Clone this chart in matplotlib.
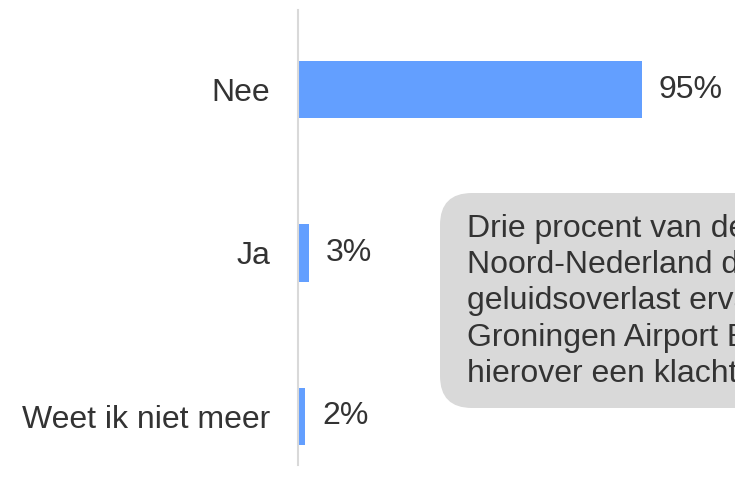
import matplotlib.pyplot as plt
from matplotlib.patches import FancyBboxPatch

plt.rcParams['font.family'] = ['Liberation Sans', 'DejaVu Sans']

categories = ['Nee', 'Ja', 'Weet ik niet meer']
values = [95, 3, 2]
note = ('Drie procent van de inwoners van\n'
        'Noord-Nederland die\n'
        'geluidsoverlast ervaart van\n'
        'Groningen Airport Eelde diende\n'
        'hierover een klacht in.')

bar_color = '#639fff'
text_color = '#333333'

W, H = 735, 492
fig = plt.figure(figsize=(W / 100, H / 100), dpi=100)
ax = fig.add_axes([298 / W, 1 - 465 / H, 362 / W, 455 / H])

pos = list(range(len(categories)))
ax.barh(pos, values, height=0.35, color=bar_color)
ax.set_xlim(0, 100)
ax.set_ylim(2.30, -0.49)

ax.set_yticks(pos)
ax.set_yticklabels(categories, fontsize=23, color=text_color)
ax.tick_params(axis='y', length=0, pad=20)
ax.set_xticks([])
for s in ['top', 'right', 'bottom']:
    ax.spines[s].set_visible(False)
ax.spines['left'].set_color('#d9d9d9')
ax.spines['left'].set_linewidth(1.5)

for i, v in enumerate(values):
    ax.annotate(f'{v}%', (v, i), xytext=(12, 0), textcoords='offset points',
                va='center', ha='left', fontsize=23, color=text_color)

# callout box (inches == px/100), runs off the right edge like the original
box = FancyBboxPatch((4.40, (H - 408) / 100), 3.4, 2.15,
                     boxstyle='round,pad=0,rounding_size=0.32',
                     transform=fig.dpi_scale_trans, facecolor='#d9d9d9',
                     edgecolor='none', zorder=0)
fig.patches.append(box)
fig.text(4.67, (H - 214) / 100, note, transform=fig.dpi_scale_trans,
         va='top', ha='left', fontsize=23, color=text_color, linespacing=1.27)

fig.savefig('out.png', dpi=100)
